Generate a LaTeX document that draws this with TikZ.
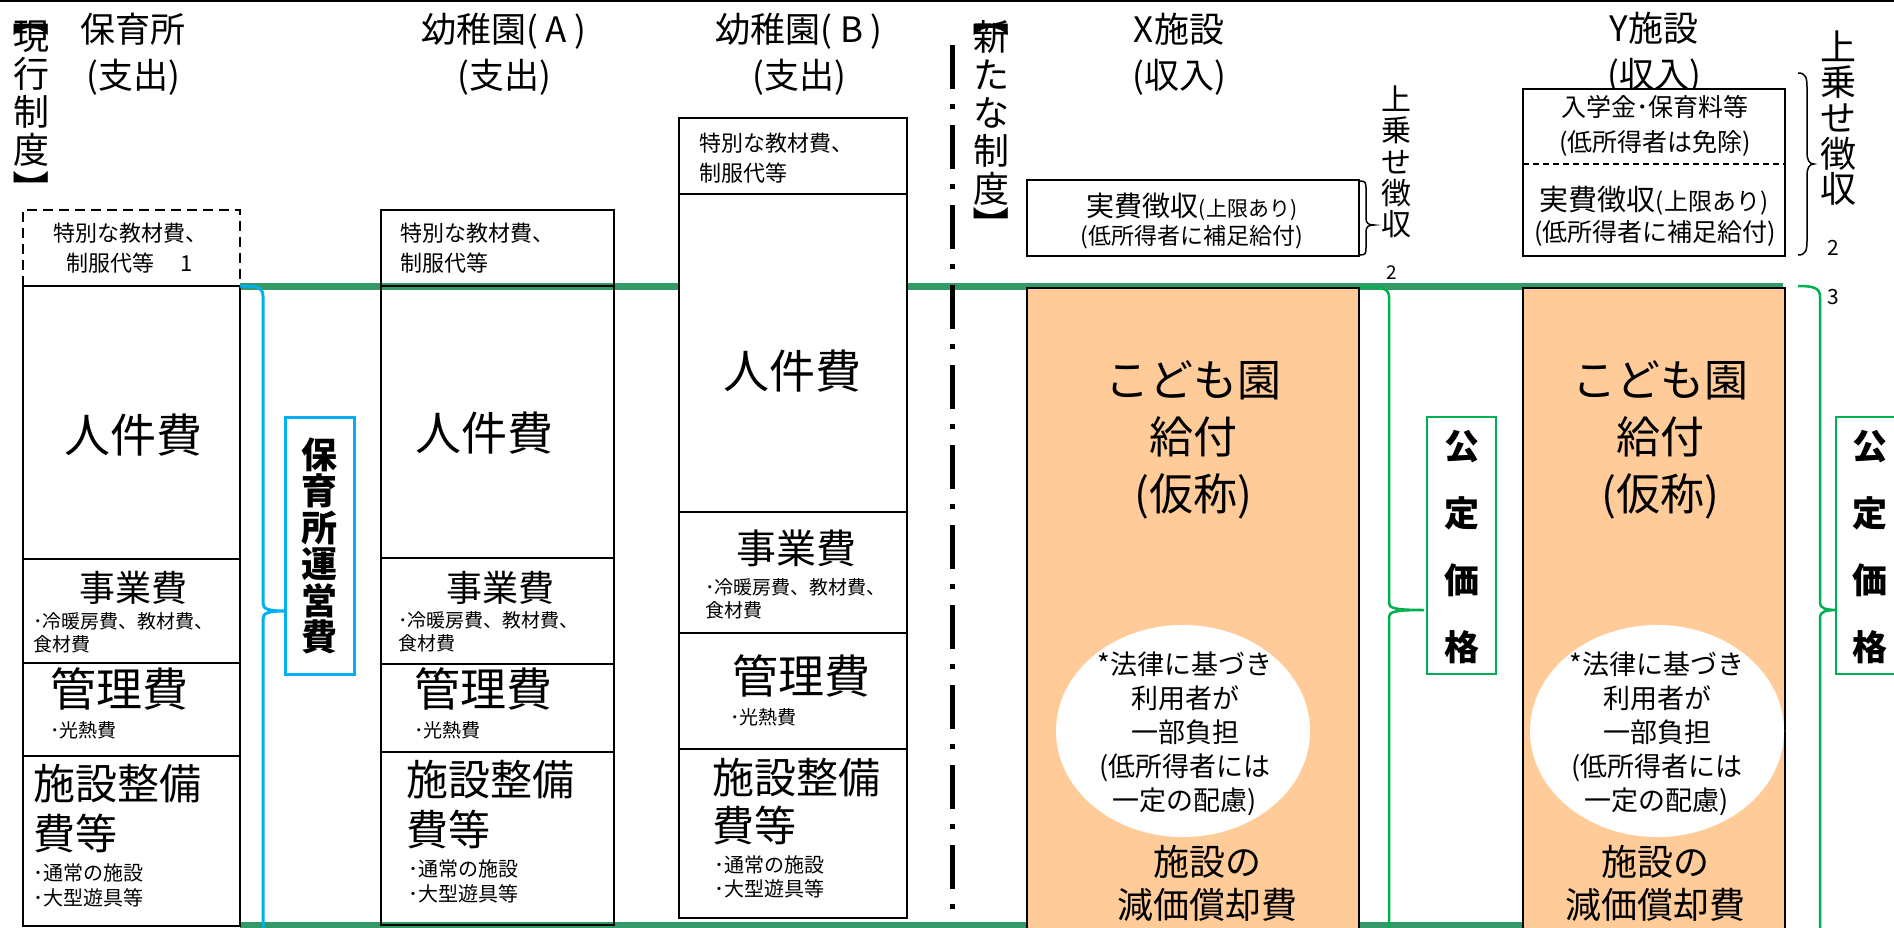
\documentclass[tikz,border=0pt]{standalone}
\usepackage{fontspec}
\setmainfont{Noto Sans CJK JP}
\usetikzlibrary{shapes.geometric}
\definecolor{orangefill}{RGB}{255,204,153}
\definecolor{lineGreen}{RGB}{51,153,102}
\definecolor{brGreen}{RGB}{0,176,80}
\definecolor{brBlue}{RGB}{0,176,240}
\newcommand{\fs}[2]{\fontsize{#1}{#2}\selectfont}
\begin{document}
\begin{tikzpicture}[x=1pt,y=-1pt,
  box/.style={draw=black,line width=2pt},
  dbox/.style={draw=black,line width=2pt,dash pattern=on 10pt off 6pt},
  txt/.style={inner sep=0pt,outer sep=0pt,align=center},
  ltxt/.style={inner sep=0pt,outer sep=0pt,align=left,anchor=west},
  head/.style={txt,font=\fs{35}{46}},
  huge/.style={txt,font=\fs{46}{50}},
  mid/.style={txt,font=\fs{36}{40}},
  fac/.style={ltxt,font=\fs{42}{50}},
  small/.style={ltxt,font=\fs{19}{23}},
  spec/.style={ltxt,font=\fs{22}{30}},
  vert/.style={txt,font=\fs{36}{38}},
  lenti/.style={txt,font=\fs{36}{38}\bfseries,rotate=-90},
  boldvert/.style={txt,font=\fs{36}{36.5}\bfseries},
  gbox/.style={draw=brGreen,line width=2.5pt,fill=white},
  gbrace/.style={draw=brGreen,line width=2.5pt},
  bbrace/.style={draw=brBlue,line width=3pt},
  kbrace/.style={draw=black,line width=1.5pt},
  obox/.style={draw=black,line width=2pt,fill=orangefill},
  kodomo/.style={txt,font=\fs{44}{57}},
  note/.style={txt,font=\fs{27}{34}},
  depr/.style={txt,font=\fs{36}{43}},
  num/.style={txt,font=\fs{19}{22}}
]
\useasboundingbox (0,0) rectangle (1894,928);
\clip (0,0) rectangle (1894,928);
\fill[white] (0,0) rectangle (1894,928);
% top rule
\draw[line width=3pt] (0,1) -- (1894,1);

% green horizontal lines
\draw[lineGreen,line width=7pt] (240,286.5) -- (1783,286.5);
\draw[lineGreen,line width=6pt] (240,925) -- (1783,925);

% headings
\node[vert] (curT) at (31,94) {現\\行\\制\\度};
\node[lenti] (curTa) at (31,19) {【};
\node[lenti] (curTb) at (31,189) {】};
\node[head] (h1) at (133,54) {保育所\\(支出)};
\node[head] (h2) at (504,54) {幼稚園( A )\\(支出)};
\node[head] (h3) at (799,54) {幼稚園( B )\\(支出)};
\node[head] (h4) at (1179,54) {X施設\\(収入)};
\node[head] (h5) at (1654,53) {Y施設\\(収入)};
\node[vert] (newT) at (991,113) {新\\た\\な\\制\\度};
\node[lenti] (newTa) at (991,19) {【};
\node[lenti] (newTb) at (991,225) {】};

% column 1 (保育所)
\draw[dbox] (22.7,286) -- (22.7,210) -- (240,210) -- (240,286);
\draw[box,fill=white] (22.7,286) rectangle (240,926);
\draw[box] (22.7,559) -- (240,559);
\draw[box] (22.7,663) -- (240,663);
\draw[box] (22.7,756) -- (240,756);
\node[txt,font=\fs{22}{30}] (c1s) at (130,248) {特別な教材費、\\制服代等\hspace{26pt}1};
\node[huge] (c1a) at (133,435) {人件費};
\node[mid] (c1b) at (133,588) {事業費};
\node[small] (c1bs) at (33,632.5) {･冷暖房費、教材費、\\食材費};
\node[huge] (c1c) at (119,689) {管理費};
\node[small] (c1cs) at (50,730) {･光熱費};
\node[fac] (c1d) at (33,809) {施設整備\\費等};
\node[small,font=\fs{20}{25}] (c1ds) at (33,885.5) {･通常の施設\\･大型遊具等};

% blue brace and box
\draw[bbrace] (240,286) .. controls (256,286) and (263,287) .. (263,296) -- (263,603) .. controls (263,609) and (268,611) .. (285,611) .. controls (268,611) and (263,613) .. (263,619) -- (263,932);
\draw[draw=brBlue,line width=3pt,fill=white] (285,417) rectangle (354,674);
\node[boldvert] (hoiku) at (319.5,546) {保\\育\\所\\運\\営\\費};

% column 2 (幼稚園A)
\draw[box] (381,210) rectangle (614,925);
\draw[box] (381,286) -- (614,286);
\draw[box] (381,558) -- (614,558);
\draw[box] (381,664) -- (614,664);
\draw[box] (381,752) -- (614,752);
\node[spec] (c2s) at (400,248) {特別な教材費、\\制服代等};
\node[huge] (c2a) at (484,433) {人件費};
\node[mid] (c2b) at (500,588) {事業費};
\node[small] (c2bs) at (398,632) {･冷暖房費、教材費、\\食材費};
\node[huge] (c2c) at (483,689) {管理費};
\node[small] (c2cs) at (414,730) {･光熱費};
\node[fac] (c2d) at (406,805) {施設整備\\費等};
\node[small,font=\fs{20}{25}] (c2ds) at (408,881.5) {･通常の施設\\･大型遊具等};

% column 3 (幼稚園B)
\draw[box,fill=white] (679,118) rectangle (907,918);
\draw[box] (679,194) -- (907,194);
\draw[box] (679,512) -- (907,512);
\draw[box] (679,633) -- (907,633);
\draw[box] (679,749) -- (907,749);
\node[spec] (c3s) at (699,158) {特別な教材費、\\制服代等};
\node[huge] (c3a) at (792,371) {人件費};
\node[txt,font=\fs{40}{44}] (c3b) at (796,548) {事業費};
\node[small] (c3bs) at (705,599) {･冷暖房費、教材費、\\食材費};
\node[huge] (c3c) at (801,676) {管理費};
\node[small] (c3cs) at (730,717) {･光熱費};
\node[fac,font=\fs{42}{48}] (c3d) at (712,802) {施設整備\\費等};
\node[small,font=\fs{20}{24}] (c3ds) at (714,877) {･通常の施設\\･大型遊具等};

% divider
\draw[line width=5pt,dash pattern=on 44pt off 15pt on 5pt off 16pt] (952,45) -- (952,912);

% X facility
\draw[box,fill=white] (1027,180) rectangle (1359,256);
\node[txt] (xa) at (1192,207) {\fs{28}{30}実費徴収\fs{21}{30}(上限あり)};
\node[txt,font=\fs{23}{30}] (xb) at (1192,237) {(低所得者に補足給付)};
\draw[kbrace] (1360,181) .. controls (1366,181) and (1366,183) .. (1366,190) -- (1366,218) .. controls (1366,223) and (1368,225) .. (1374,225) .. controls (1368,225) and (1366,227) .. (1366,232) -- (1366,247) .. controls (1366,253) and (1366,255) .. (1360,255);
\node[txt,font=\fs{30}{31.3}] (xup) at (1396,162) {上\\乗\\せ\\徴\\収};
\node[num] (x2) at (1392,273) {2};
\draw[obox] (1027,288) rectangle (1359,935);
\node[kodomo] (xk) at (1193,440) {こども園\\給付\\(仮称)};
\node[ellipse,fill=white,minimum width=254pt,minimum height=212pt,inner sep=0pt] (xe) at (1183,731) {};
\node[note] (xn) at (1185,734) {*法律に基づき\\利用者が\\一部負担\\(低所得者には\\一定の配慮)};
\node[depr] (xd) at (1207,883) {施設の\\減価償却費};
\draw[gbrace] (1360,287) .. controls (1382,287) and (1389,288) .. (1389,297) -- (1389,603) .. controls (1389,608) and (1394,610) .. (1424,610) .. controls (1394,610) and (1389,612) .. (1389,617) -- (1389,932);
\draw[gbox] (1427,417) rectangle (1496,674);
\node[txt,font=\fs{35}{66.7}\bfseries] (xk2) at (1462,547) {公\\定\\価\\格};

% Y facility
\draw[box,fill=white] (1523,89) rectangle (1785,256);
\draw[black,line width=1.3pt,dash pattern=on 6pt off 4pt] (1523,164) -- (1785,164);
\node[txt,font=\fs{25}{35}] (ya) at (1655,125.5) {入学金･保育料等\\(低所得者は免除)};
\node[txt] (yb) at (1654,201) {\fs{29}{30}実費徴収\fs{24}{30}(上限あり)};
\node[txt,font=\fs{25}{30}] (yc) at (1655,233) {(低所得者に補足給付)};
\draw[kbrace] (1798,73) .. controls (1806,73) and (1807,78) .. (1807,88) -- (1807,152) .. controls (1807,160) and (1809,164) .. (1814,164) .. controls (1809,164) and (1807,168) .. (1807,176) -- (1807,240) .. controls (1807,250) and (1806,255) .. (1798,255);
\node[txt,font=\fs{36}{35.7}] (yup) at (1838,118) {上\\乗\\せ\\徴\\収};
\node[num,font=\fs{21}{22}] (y2) at (1833,248) {2};
\node[num,font=\fs{21}{22}] (y3) at (1833,297) {3};
\draw[obox] (1523,288) rectangle (1785,935);
\node[kodomo] (yk) at (1660,440) {こども園\\給付\\(仮称)};
\node[ellipse,fill=white,minimum width=254pt,minimum height=212pt,inner sep=0pt] (ye) at (1657,731) {};
\node[note] (yn) at (1657,734) {*法律に基づき\\利用者が\\一部負担\\(低所得者には\\一定の配慮)};
\node[depr] (yd) at (1655,883) {施設の\\減価償却費};
\draw[gbrace] (1798,286) .. controls (1814,286) and (1820,288) .. (1820,297) -- (1820,603) .. controls (1820,608) and (1825,610) .. (1838,610) .. controls (1825,610) and (1820,612) .. (1820,617) -- (1820,932);
\draw[gbox] (1836,417) rectangle (1910,674);
\node[txt,font=\fs{35}{66.7}\bfseries] (yk2) at (1870,547) {公\\定\\価\\格};
\end{tikzpicture}
\end{document}
